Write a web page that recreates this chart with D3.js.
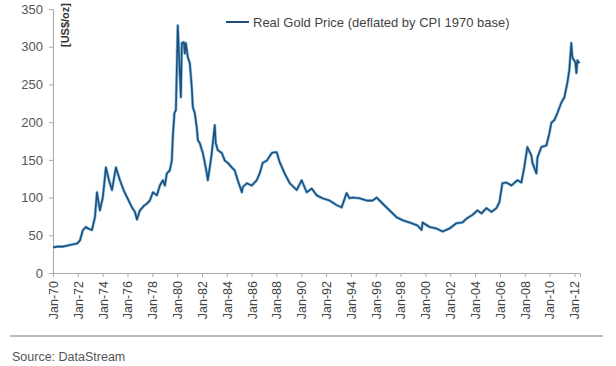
<!DOCTYPE html>
<html>
<head>
<meta charset="utf-8">
<script src="https://cdn.jsdelivr.net/npm/d3@7"></script>
<style>
  body { margin: 0; background: #fff; }
  svg { display: block; font-family: "Liberation Sans", Arial, sans-serif; }
</style>
</head>
<body>
<svg id="chart" width="616" height="366"></svg>
<script>
// decimal year of each reading, and real gold price (US$/oz, 1970 base)
var years = [
  1970.00, 1970.40, 1970.80, 1971.37, 1971.93, 1972.17, 1972.41, 1972.65, 1972.82, 1973.14,
  1973.38, 1973.54, 1973.78, 1974.02, 1974.26, 1974.51, 1974.75, 1975.07, 1975.39, 1975.71,
  1975.95, 1976.36, 1976.60, 1976.76, 1977.00, 1977.32, 1977.56, 1977.80, 1978.05, 1978.37,
  1978.61, 1978.85, 1979.01, 1979.17, 1979.41, 1979.57, 1979.65, 1979.78, 1979.90, 1980.05,
  1980.30, 1980.38, 1980.54, 1980.62, 1980.70, 1980.86, 1981.02, 1981.18, 1981.26, 1981.42,
  1981.58, 1981.67, 1981.83, 1981.99, 1982.07, 1982.23, 1982.39, 1982.47, 1982.63, 1982.79,
  1982.87, 1983.03, 1983.11, 1983.27, 1983.60, 1983.84, 1984.08, 1984.40, 1984.64, 1984.88,
  1985.21, 1985.29, 1985.61, 1986.01, 1986.41, 1986.65, 1986.89, 1987.22, 1987.62, 1987.86,
  1988.02, 1988.26, 1988.66, 1989.07, 1989.63, 1990.03, 1990.43, 1990.84, 1991.24, 1991.72,
  1992.28, 1992.85, 1993.25, 1993.65, 1993.89, 1994.14, 1994.70, 1995.26, 1995.74, 1996.07,
  1996.55, 1997.11, 1997.67, 1998.16, 1998.72, 1999.36, 1999.69, 1999.77, 2000.33, 2000.89,
  2001.38, 2001.94, 2002.50, 2002.98, 2003.39, 2003.79, 2004.19, 2004.51, 2004.92, 2005.32,
  2005.72, 2005.96, 2006.20, 2006.52, 2006.93, 2007.41, 2007.73, 2007.97, 2008.21, 2008.53,
  2008.62, 2008.94, 2009.02, 2009.34, 2009.74, 2009.98, 2010.14, 2010.39, 2010.63, 2010.95,
  2011.19, 2011.43, 2011.59, 2011.75, 2011.83, 2012.08, 2012.16, 2012.24, 2012.40
];
var prices = [
  34, 35, 35, 37, 39, 43, 57, 61, 59, 57,
  74, 107, 83, 101, 140, 123, 110, 140, 123, 109,
  101, 87, 81, 71, 83, 89, 92, 96, 107, 103,
  116, 123, 116, 132, 136, 149, 180, 212, 216, 328,
  233, 305, 306, 291, 305, 286, 278, 246, 220, 212,
  193, 176, 172, 163, 159, 146, 132, 123, 140, 159,
  172, 196, 172, 163, 159, 149, 146, 140, 136, 123,
  107, 114, 119, 116, 123, 132, 146, 149, 159, 160,
  160, 147, 132, 119, 110, 123, 107, 112, 103, 99,
  96, 90, 87, 106, 99, 100, 99, 96, 96, 100,
  92, 83, 74, 70, 67, 63, 57, 67, 61, 59,
  55, 59, 66, 67, 73, 77, 83, 79, 86, 81,
  86, 94, 119, 120, 116, 123, 120, 141, 167, 156,
  146, 132, 153, 167, 169, 185, 199, 203, 212, 226,
  233, 252, 269, 305, 286, 279, 265, 282, 278
];
var yTicks = [0, 50, 100, 150, 200, 250, 300, 350];
var xTicks = d3.range(1970, 2013, 2);
var tickLabels = xTicks.map(function (y) { return "Jan-" + String(y).slice(2); });

var svg = d3.select("#chart");
var x = d3.scaleLinear().domain([1970, 2012.45]).range([53, 580]);
var y = d3.scaleLinear().domain([0, 350]).range([273, 9]);

// EIXO Y
var yAxis = svg.append("g")
  .attr("transform", "translate(53,0)")
  .call(d3.axisLeft(y).tickValues(yTicks).tickSize(4).tickPadding(6));
yAxis.select(".domain").attr("stroke", "#aaa");
yAxis.selectAll(".tick line").attr("stroke", "#aaa");
yAxis.selectAll("text").attr("fill", "#555").style("font-size", "13px");

// EIXO X
var xAxis = svg.append("g")
  .attr("transform", "translate(0,273)")
  .call(d3.axisBottom(x).tickValues(xTicks).tickSize(4).tickFormat(function (d, i) { return tickLabels[i]; }));
xAxis.select(".domain").attr("stroke", "#aaa");
xAxis.selectAll(".tick line").attr("stroke", "#aaa");
xAxis.selectAll("text")
  .attr("fill", "#444")
  .style("font-size", "12.5px")
  .attr("text-anchor", "end")
  .attr("transform", "rotate(-90)")
  .attr("x", -8)
  .attr("y", 0)
  .attr("dy", "0.35em");

// LINHA
var line = d3.line()
  .x(function (d, i) { return x(years[i]); })
  .y(function (d) { return y(d); });
svg.append("path")
  .datum(prices)
  .attr("fill", "none")
  .attr("stroke", "#8ec3e6")
  .attr("stroke-width", 3)
  .attr("stroke-linejoin", "round")
  .attr("d", line);
svg.append("path")
  .datum(prices)
  .attr("fill", "none")
  .attr("stroke", "#1d4f7a")
  .attr("stroke-width", 1.6)
  .attr("stroke-linejoin", "round")
  .attr("d", line);

// UNIDADE
svg.append("text")
  .attr("transform", "translate(69,47) rotate(-90)")
  .attr("fill", "#333")
  .style("font-size", "11px")
  .style("font-weight", "bold")
  .text("[US$/oz]");

// LEGENDA
svg.append("line")
  .attr("x1", 226).attr("x2", 249).attr("y1", 22).attr("y2", 22)
  .attr("stroke", "#1d4f7a").attr("stroke-width", 2);
svg.append("text")
  .attr("x", 253).attr("y", 27)
  .attr("fill", "#444")
  .style("font-size", "13px")
  .text("Real Gold Price (deflated by CPI 1970 base)");

// RODAPÉ
svg.append("line")
  .attr("x1", 10).attr("x2", 603).attr("y1", 336).attr("y2", 336)
  .attr("stroke", "#bbb").attr("stroke-width", 2);
svg.append("text")
  .attr("x", 12).attr("y", 361)
  .attr("fill", "#555")
  .style("font-size", "12.5px")
  .text("Source: DataStream");
</script>
</body>
</html>
